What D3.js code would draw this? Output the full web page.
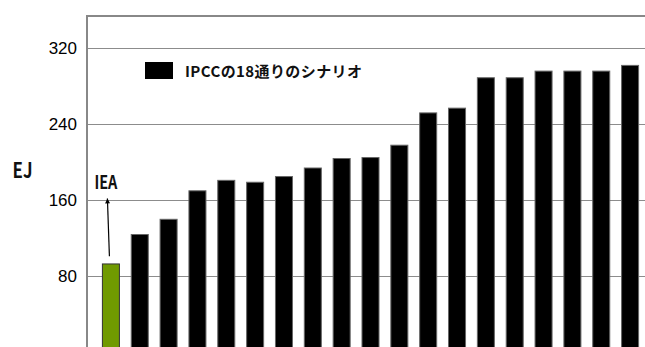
<!DOCTYPE html>
<html>
<head>
<meta charset="utf-8">
<script src="https://cdn.jsdelivr.net/npm/d3@7"></script>
<style>
  html, body { margin: 0; padding: 0; background: #fff; overflow: hidden; }
  svg { display: block; }
</style>
</head>
<body>
<svg id="chart" width="645" height="347"></svg>
<script>
// ---- data ----
const categories = ["IEA", "S1", "S2", "S3", "S4", "S5", "S6", "S7", "S8", "S9",
                    "S10", "S11", "S12", "S13", "S14", "S15", "S16", "S17", "S18"];
const values = [93, 124, 140, 170, 181, 179, 185, 194, 204, 205,
                218, 252, 257, 289, 289, 296, 296, 296, 302];
const yTicks = [80, 160, 240, 320];
const yLabel = "EJ";
const legendLabel = "IPCCの18通りのシナリオ";
const ieaLabel = "IEA";
const arrowFromTo = [101, 162]; // arrow from value to value (in EJ)

// ---- layout ----
const plot = { left: 87, right: 654, top: 16, bottom: 352.3 };
const svg = d3.select("#chart");

const x = d3.scaleBand()
  .domain(categories)
  .range([plot.left, plot.right])
  .paddingInner(0.41)
  .paddingOuter(0.534);

const y = d3.scaleLinear()
  .domain([0, 354])
  .range([plot.bottom, plot.top]);

// gridlines
svg.append("g")
  .selectAll("line")
  .data(yTicks)
  .join("line")
  .attr("x1", plot.left)
  .attr("x2", plot.right)
  .attr("y1", d => Math.round(y(d)) + 0.5)
  .attr("y2", d => Math.round(y(d)) + 0.5)
  .attr("stroke", "#8c8c8c")
  .attr("stroke-width", 1);

// y axis tick labels
const yAxis = d3.axisLeft(y).tickValues(yTicks).tickSize(0).tickPadding(10);
const gy = svg.append("g")
  .attr("transform", `translate(${plot.left},0)`)
  .call(yAxis);
gy.select(".domain").remove();
gy.selectAll("text")
  .attr("font-family", "'Liberation Sans', Arial, sans-serif")
  .attr("font-size", 17)
  .attr("fill", "#000");

// bars
svg.append("g")
  .selectAll("rect")
  .data(values)
  .join("rect")
  .attr("x", (d, i) => x(categories[i]))
  .attr("y", d => y(d))
  .attr("width", x.bandwidth())
  .attr("height", d => y(0) - y(d))
  .attr("fill", (d, i) => i === 0 ? "#709a00" : "#000")
  .attr("stroke", (d, i) => i === 0 ? "#333" : "#666")
  .attr("stroke-width", 1);

// frame: left and top
svg.append("line")
  .attr("x1", plot.left).attr("x2", plot.left)
  .attr("y1", plot.top).attr("y2", 347)
  .attr("stroke", "#888").attr("stroke-width", 2);
svg.append("line")
  .attr("x1", plot.left - 1).attr("x2", 645)
  .attr("y1", plot.top).attr("y2", plot.top)
  .attr("stroke", "#888").attr("stroke-width", 2);

// y label
svg.append("text")
  .attr("x", 12.5)
  .attr("y", y(183.5))
  .attr("font-family", "'Noto Sans CJK JP', sans-serif")
  .attr("font-weight", "bold")
  .attr("font-size", 21)
  .attr("textLength", 20)
  .attr("lengthAdjust", "spacingAndGlyphs")
  .attr("fill", "#111")
  .text(yLabel);

// legend
const legendX = 145, legendY = 62;
svg.append("rect")
  .attr("x", legendX).attr("y", legendY)
  .attr("width", 28).attr("height", 17)
  .attr("fill", "#000");
svg.append("text")
  .attr("x", legendX + 40)
  .attr("y", legendY + 14.5)
  .attr("font-family", "'Noto Sans CJK JP', sans-serif")
  .attr("font-weight", "bold")
  .attr("font-size", 15)
  .attr("textLength", 177)
  .attr("lengthAdjust", "spacing")
  .attr("fill", "#111")
  .text(legendLabel);

// IEA annotation
const cx = x(categories[0]) + x.bandwidth() / 2;
svg.append("defs").append("marker")
  .attr("id", "ah")
  .attr("viewBox", "0 0 10 10")
  .attr("refX", 10).attr("refY", 5)
  .attr("markerWidth", 6).attr("markerHeight", 5)
  .attr("markerUnits", "userSpaceOnUse")
  .attr("orient", "auto")
  .append("path")
  .attr("d", "M0,0 L10,5 L0,10 z")
  .attr("fill", "#000");

svg.append("line")
  .attr("x1", cx - 1.5).attr("y1", y(arrowFromTo[0]))
  .attr("x2", cx - 3.5).attr("y2", y(arrowFromTo[1]))
  .attr("stroke", "#000")
  .attr("stroke-width", 1.2)
  .attr("marker-end", "url(#ah)");

svg.append("text")
  .attr("x", cx - 16.5)
  .attr("y", y(172))
  .attr("font-family", "'Noto Sans CJK JP', sans-serif")
  .attr("font-weight", "bold")
  .attr("font-size", 19)
  .attr("textLength", 23)
  .attr("lengthAdjust", "spacingAndGlyphs")
  .attr("fill", "#111")
  .text(ieaLabel);
</script>
</body>
</html>
